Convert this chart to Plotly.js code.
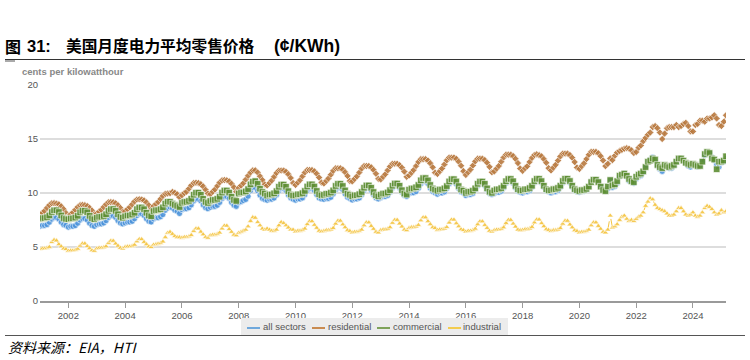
<!DOCTYPE html>
<html><head><meta charset="utf-8">
<script src="https://cdn.plot.ly/plotly-3.0.1.min.js"></script>
<style>
html,body{margin:0;padding:0;background:#fff;width:750px;height:360px;overflow:hidden;}
#chart{position:absolute;left:0;top:0;width:750px;height:360px;}
.ov{position:absolute;white-space:nowrap;}
.lg{position:absolute;top:327px;height:2px;width:13px;}
.lt{position:absolute;top:321px;font-family:'Liberation Sans',Arial,sans-serif;font-size:9.5px;color:#555;line-height:12px;}
</style></head><body>
<div id="chart"></div>

<div class="ov" style="left:5px;top:36px;font-family:'Noto Sans CJK SC';font-weight:bold;font-size:16px;line-height:20px;color:#000;">图</div>
<div class="ov" style="left:27px;top:36px;font-family:'Liberation Sans',Arial;font-weight:bold;font-size:16.5px;line-height:20px;color:#000;">31:</div>
<div class="ov" style="left:66px;top:36px;font-family:'Noto Sans CJK SC';font-weight:bold;font-size:15.7px;line-height:20px;color:#000;">美国月度电力平均零售价格</div>
<div class="ov" style="left:274px;top:36px;font-family:'Liberation Sans',Arial;font-weight:bold;font-size:17.5px;line-height:20px;color:#000;">(¢/KWh)</div>
<div class="ov" style="left:5px;top:59px;width:740px;height:0;border-top:1.5px solid #333"></div>
<div class="ov" style="left:5px;top:60px;width:10px;height:2px;background:#aaa"></div>

<div class="ov" style="left:22px;top:66px;font-family:'Liberation Sans',Arial;font-weight:bold;font-size:9.5px;color:#888;">cents per kilowatthour</div>

<div class="ov" style="left:241px;top:318px;width:267px;height:17px;background:#ececec"></div>
<div class="lg" style="left:247px;background:#6fa8dc"></div><div class="lt" style="left:263px">all sectors</div>
<div class="lg" style="left:312px;background:#c98b50"></div><div class="lt" style="left:328px">residential</div>
<div class="lg" style="left:377px;background:#7fa35a"></div><div class="lt" style="left:393px">commercial</div>
<div class="lg" style="left:448px;background:#f3cc4f"></div><div class="lt" style="left:463px">industrial</div>

<div class="ov" style="left:5px;top:335px;width:740px;height:0;border-top:1.5px solid #555"></div>
<div class="ov" style="left:8px;top:338px;font-family:'Noto Sans CJK SC';font-style:italic;font-size:14px;line-height:18px;color:#000;">资料来源：EIA，HTI</div>

<script>
// Monthly average retail price of electricity, cents/kWh, Jan 2001 - Mar 2025
const startYear = 2001;
const seriesNames = ['all sectors', 'residential', 'commercial', 'industrial'];

const allSectors = [
 6.93,7.00,7.00,7.07,7.29,7.58,7.73,7.73,7.58,7.29,7.07,7.00,
 6.84,6.91,6.91,6.98,7.20,7.49,7.63,7.63,7.49,7.20,6.98,6.91,
 7.07,7.14,7.14,7.22,7.44,7.74,7.89,7.89,7.74,7.44,7.22,7.14,
 7.23,7.31,7.31,7.38,7.61,7.91,8.07,8.07,7.91,7.61,7.38,7.31,
 7.60,7.70,7.70,7.80,8.00,8.40,8.60,8.70,8.60,8.40,8.30,8.10,
 8.46,8.54,8.54,8.63,8.90,9.26,9.43,9.43,9.26,8.90,8.63,8.54,
 8.67,8.76,8.76,8.86,9.13,9.50,9.68,9.68,9.50,9.13,8.86,8.76,
 9.10,9.20,9.30,9.40,9.70,10.20,10.50,10.50,10.20,9.80,9.50,9.40,
 9.33,9.43,9.43,9.53,9.82,10.21,10.41,10.41,10.21,9.82,9.53,9.43,
 9.34,9.44,9.44,9.54,9.83,10.22,10.42,10.42,10.22,9.83,9.54,9.44,
 9.41,9.50,9.50,9.60,9.90,10.30,10.49,10.49,10.30,9.90,9.60,9.50,
 9.35,9.45,9.45,9.54,9.84,10.23,10.43,10.43,10.23,9.84,9.54,9.45,
 9.57,9.67,9.67,9.77,10.07,10.47,10.67,10.67,10.47,10.07,9.77,9.67,
 9.92,10.02,10.02,10.13,10.44,10.86,11.07,11.07,10.86,10.44,10.13,10.02,
 9.89,9.99,9.99,10.10,10.41,10.83,11.03,11.03,10.83,10.41,10.10,9.99,
 9.76,9.86,9.86,9.96,10.27,10.68,10.89,10.89,10.68,10.27,9.96,9.86,
 9.96,10.06,10.06,10.17,10.48,10.90,11.11,11.11,10.90,10.48,10.17,10.06,
 10.00,10.11,10.11,10.21,10.53,10.95,11.16,11.16,10.95,10.53,10.21,10.11,
 10.01,10.12,10.12,10.22,10.54,10.96,11.17,11.17,10.96,10.54,10.22,10.12,
 10.06,10.17,10.17,10.27,10.59,11.01,11.23,11.23,11.01,10.59,10.27,10.17,
 10.40,11.20,10.50,10.60,10.90,11.50,11.70,11.80,11.50,11.10,11.00,10.90,
 11.30,11.50,11.60,11.90,12.40,12.90,13.10,13.30,13.00,12.50,12.20,12.00,
 12.40,12.40,12.30,12.30,12.50,12.90,13.20,13.20,13.00,12.70,12.50,12.40,
 12.60,12.50,12.40,12.50,12.90,13.50,13.80,13.70,13.30,13.00,12.60,12.40,
 12.80,12.90,13.20
];

const residential = [
 8.00,8.17,8.34,8.62,8.88,9.05,9.06,9.02,8.95,8.76,8.50,8.15,
 7.86,8.03,8.20,8.45,8.70,8.87,8.90,8.87,8.79,8.62,8.37,8.03,
 8.09,8.27,8.44,8.70,8.96,9.14,9.16,9.14,9.05,8.87,8.61,8.27,
 8.32,8.50,8.68,8.95,9.22,9.40,9.42,9.40,9.31,9.13,8.86,8.50,
 8.79,8.98,9.17,9.45,9.73,9.92,9.95,9.98,10.10,10.02,9.88,9.60,
 9.80,10.00,10.12,10.40,10.71,10.92,10.95,10.92,10.82,10.61,10.30,9.95,
 9.90,10.12,10.33,10.65,10.97,11.18,11.20,11.18,11.08,10.86,10.54,10.12,
 10.46,10.69,10.91,11.25,11.59,11.90,12.10,12.10,11.90,11.55,11.20,10.80,
 10.70,10.93,11.16,11.50,11.85,12.08,12.08,12.08,11.96,11.73,11.39,10.93,
 10.74,10.97,11.20,11.55,11.90,12.13,12.13,12.13,12.01,11.78,11.43,10.97,
 10.88,11.12,11.35,11.70,12.05,12.29,12.29,12.29,12.17,11.93,11.58,11.12,
 11.07,11.31,11.54,11.90,12.26,12.50,12.50,12.50,12.38,12.14,11.78,11.31,
 11.25,11.50,11.74,12.10,12.46,12.71,12.71,12.71,12.58,12.34,11.98,11.50,
 11.63,11.88,12.13,12.50,12.88,13.13,13.13,13.13,13.00,12.75,12.38,11.88,
 11.76,12.02,12.27,12.65,13.03,13.28,13.28,13.28,13.16,12.90,12.52,12.02,
 11.67,11.92,12.17,12.55,12.93,13.18,13.18,13.18,13.05,12.80,12.42,11.92,
 12.00,12.26,12.51,12.90,13.29,13.55,13.55,13.55,13.42,13.16,12.77,12.26,
 12.05,12.30,12.48,12.88,13.25,13.52,13.58,13.50,13.40,13.14,12.80,12.30,
 12.09,12.35,12.61,13.00,13.39,13.65,13.65,13.65,13.52,13.26,12.87,12.35,
 12.23,12.49,12.76,13.15,13.54,13.81,13.81,13.81,13.68,13.41,13.02,12.49,
 12.70,13.20,13.05,13.45,13.75,13.90,14.00,14.10,14.15,14.10,13.95,13.70,
 13.80,14.20,14.40,14.80,15.10,15.40,15.60,16.10,16.20,16.00,15.60,15.00,
 15.50,16.00,16.10,16.10,16.10,16.30,16.10,16.20,16.40,16.50,16.20,15.70,
 15.70,16.30,16.40,16.70,16.70,16.60,16.90,16.90,17.00,17.20,16.90,16.30,
 16.20,16.60,17.20
];

const commercial = [
 7.60,7.68,7.68,7.76,7.92,8.24,8.40,8.40,8.24,7.92,7.68,7.60,
 7.57,7.65,7.65,7.73,7.89,8.21,8.36,8.36,8.21,7.89,7.65,7.57,
 7.71,7.79,7.79,7.87,8.03,8.35,8.51,8.51,8.35,8.03,7.79,7.71,
 7.84,7.92,7.92,8.01,8.17,8.50,8.66,8.66,8.50,8.17,7.92,7.84,
 8.32,8.41,8.41,8.50,8.67,9.02,9.19,9.19,9.02,8.90,8.80,8.70,
 9.08,9.18,9.18,9.27,9.46,9.84,10.03,10.03,9.84,9.46,9.18,9.08,
 9.26,9.36,9.36,9.46,9.65,10.04,10.23,10.23,10.04,9.65,9.36,9.26,
 9.95,10.05,10.05,10.15,10.36,10.80,11.05,11.10,10.85,10.40,10.10,9.95,
 9.76,9.86,9.86,9.97,10.17,10.58,10.78,10.78,10.58,10.17,9.86,9.76,
 9.78,9.88,9.88,9.99,10.19,10.60,10.80,10.80,10.60,10.19,9.88,9.78,
 9.83,9.93,9.93,10.04,10.24,10.65,10.85,10.85,10.65,10.24,9.93,9.83,
 9.69,9.79,9.79,9.89,10.09,10.49,10.70,10.70,10.49,10.09,9.79,9.69,
 9.85,9.95,9.95,10.05,10.26,10.67,10.88,10.88,10.67,10.26,9.95,9.85,
 10.31,10.42,10.42,10.53,10.74,11.17,11.38,11.38,11.17,10.74,10.42,10.31,
 10.21,10.32,10.32,10.43,10.64,11.07,11.28,11.28,11.07,10.64,10.32,10.21,
 10.01,10.12,10.12,10.22,10.43,10.85,11.06,11.06,10.85,10.43,10.12,10.01,
 10.23,10.34,10.34,10.45,10.66,11.09,11.30,11.30,11.09,10.66,10.34,10.23,
 10.24,10.35,10.35,10.46,10.67,11.10,11.31,11.31,11.10,10.67,10.35,10.24,
 10.25,10.36,10.36,10.47,10.68,11.11,11.32,11.32,11.11,10.68,10.36,10.25,
 10.17,10.27,10.27,10.38,10.59,11.01,11.23,11.23,11.01,10.59,10.27,10.17,
 10.60,11.20,10.70,10.80,11.10,11.60,11.70,11.80,11.60,11.30,11.10,11.00,
 11.50,11.70,11.80,12.00,12.40,12.90,13.00,13.20,13.10,12.60,12.40,12.30,
 12.60,12.50,12.40,12.50,12.60,12.90,13.20,13.20,13.00,12.80,12.70,12.60,
 12.70,12.60,12.50,12.50,12.90,13.60,13.80,13.70,13.20,13.10,12.20,12.90,
 12.90,13.00,13.40
];

const industrial = [
 4.80,4.85,4.85,4.90,5.00,5.45,5.65,5.60,5.25,5.05,4.85,4.80,
 4.64,4.68,4.68,4.73,4.83,5.12,5.32,5.32,5.08,4.88,4.68,4.64,
 4.85,4.91,4.91,4.96,5.06,5.37,5.57,5.57,5.31,5.11,4.91,4.85,
 4.99,5.04,5.04,5.09,5.20,5.51,5.72,5.72,5.46,5.25,5.04,4.99,
 5.20,5.25,5.30,5.35,5.50,5.90,6.30,6.40,6.20,6.00,5.90,5.90,
 5.85,5.91,5.91,5.98,6.10,6.47,6.71,6.71,6.41,6.16,5.91,5.85,
 6.07,6.13,6.13,6.20,6.33,6.71,6.97,6.97,6.65,6.39,6.13,6.07,
 6.30,6.40,6.50,6.60,6.90,7.40,7.75,7.70,7.30,7.00,6.70,6.60,
 6.70,6.60,6.50,6.50,6.60,7.00,7.30,7.20,7.00,6.80,6.60,6.60,
 6.43,6.50,6.50,6.57,6.70,7.11,7.38,7.38,7.04,6.77,6.50,6.43,
 6.48,6.55,6.55,6.62,6.75,7.16,7.43,7.43,7.09,6.82,6.55,6.48,
 6.34,6.40,6.40,6.47,6.60,7.00,7.27,7.27,6.94,6.67,6.40,6.34,
 6.55,6.61,6.61,6.68,6.82,7.23,7.51,7.51,7.17,6.89,6.61,6.55,
 6.75,6.82,6.82,6.89,7.03,7.46,7.74,7.74,7.38,7.10,6.82,6.75,
 6.56,6.63,6.63,6.70,6.84,7.26,7.53,7.53,7.19,6.91,6.63,6.56,
 6.42,6.49,6.49,6.56,6.69,7.10,7.37,7.37,7.03,6.76,6.49,6.42,
 6.54,6.60,6.60,6.67,6.81,7.22,7.50,7.50,7.16,6.88,6.60,6.54,
 6.57,6.64,6.64,6.71,6.85,7.27,7.54,7.54,7.20,6.92,6.64,6.57,
 6.47,6.54,6.54,6.61,6.74,7.15,7.42,7.42,7.08,6.81,6.54,6.47,
 6.34,6.40,6.40,6.47,6.60,7.00,7.27,7.27,6.94,6.67,6.40,6.34,
 6.60,7.90,6.80,6.90,7.10,7.50,7.80,7.90,7.60,7.40,7.50,7.40,
 7.60,7.80,7.90,8.20,8.80,9.20,9.50,9.40,8.90,8.60,8.50,8.40,
 8.30,8.10,7.90,7.90,8.00,8.30,8.60,8.60,8.30,8.00,7.90,8.00,
 8.20,7.90,7.80,7.90,8.20,8.60,8.80,8.70,8.50,8.20,8.00,8.10,
 8.40,8.20,8.30
];

const yTicks = [0, 5, 10, 15, 20];

const months = allSectors.map((_, i) => {
  const y = startYear + Math.floor(i / 12);
  const m = (i % 12) + 1;
  return y + '-' + String(m).padStart(2, '0') + '-01';
});

function trace(name, vals, color, symbol, size) {
  return {
    type: 'scatter', mode: 'lines+markers', name: name,
    x: months, y: vals,
    line: {color: color, width: 1, dash: 'dash'},
    marker: {color: color, symbol: symbol, size: size, opacity: 0.9,
             line: {color: 'rgba(255,255,255,0.8)', width: 0.8}},
    hoverinfo: 'skip'
  };
}

const data = [
  trace(seriesNames[0], allSectors, '#4d94db', 'circle', 6),
  trace(seriesNames[1], residential, '#b97a40', 'diamond', 5.5),
  trace(seriesNames[2], commercial, '#5e8f34', 'square', 6.5),
  trace(seriesNames[3], industrial, '#f5c542', 'triangle-up', 5.5)
];

const tickFont = {family: "'Liberation Sans', Arial, sans-serif", size: 9.5, color: '#555'};

const layout = {
  width: 750, height: 360,
  margin: {l: 40, r: 24, t: 85, b: 59, pad: 0},
  paper_bgcolor: 'rgba(0,0,0,0)', plot_bgcolor: 'rgba(0,0,0,0)',
  showlegend: false,
  xaxis: {
    type: 'date', range: ['2001-01-01', '2025-03-01'],
    tick0: '2002-01-01', dtick: 'M24', tickformat: '%Y',
    showgrid: false, zeroline: false,
    showline: true, linecolor: '#9a9a9a', linewidth: 1.5,
    ticks: 'outside', ticklen: 5, tickcolor: '#9a9a9a', tickwidth: 1,
    tickfont: tickFont
  },
  yaxis: {
    range: [0, 20], tickvals: yTicks, ticktext: yTicks.map(String),
    showgrid: true, gridcolor: '#dddddd', gridwidth: 1.5,
    zeroline: false, showline: false, ticks: '',
    ticklabelstandoff: 1,
    tickfont: tickFont
  }
};

Plotly.newPlot('chart', data, layout, {staticPlot: true, displayModeBar: false});
</script>
</body></html>
